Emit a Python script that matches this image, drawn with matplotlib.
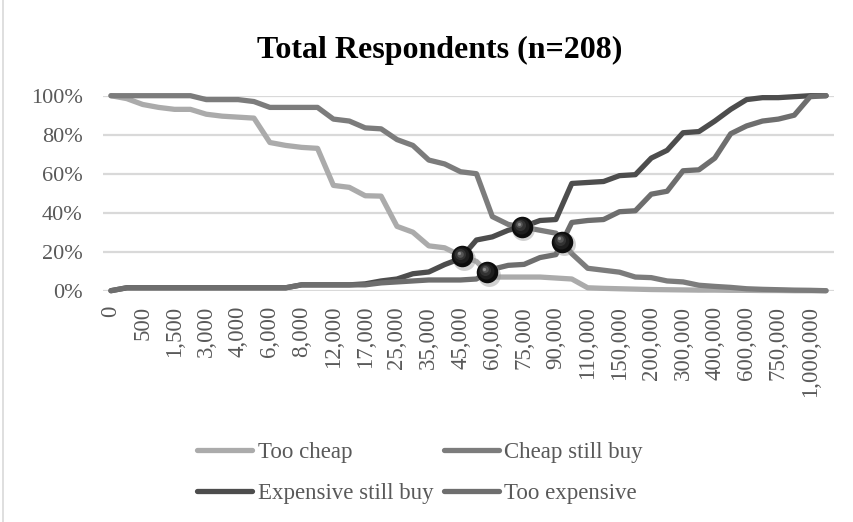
import matplotlib
matplotlib.use("Agg")
import matplotlib.pyplot as plt
import matplotlib.transforms as mtransforms
from matplotlib.lines import Line2D
import numpy as np

plt.rcParams['font.family'] = ['Liberation Serif', 'DejaVu Serif']

# Price points asked in the survey (every other one is labelled on the axis)
prices = ["0", "250", "500", "1,000", "1,500", "2,000", "3,000", "3,500",
          "4,000", "5,000", "6,000", "7,000", "8,000", "10,000", "12,000",
          "15,000", "17,000", "20,000", "25,000", "30,000", "35,000", "40,000",
          "45,000", "50,000", "60,000", "70,000", "75,000", "80,000", "90,000",
          "100,000", "110,000", "120,000", "150,000", "180,000", "200,000",
          "250,000", "300,000", "350,000", "400,000", "500,000", "600,000",
          "700,000", "750,000", "800,000", "1,000,000", "1,500,000"]

# Cumulative share of respondents (%)
too_cheap = [100, 98.5, 95.5, 94, 93, 93, 90.5, 89.5, 89, 88.5, 76, 74.5,
             73.5, 73, 54, 53, 48.7, 48.5, 33, 30, 23, 22, 18, 15, 7, 7, 7,
             7, 6.5, 6, 1.5, 1.2, 1, 0.8, 0.6, 0.5, 0.4, 0.3, 0.3, 0.2, 0.2,
             0.1, 0.1, 0, 0, 0]
cheap_still_buy = [100, 100, 100, 100, 100, 100, 98, 98, 98, 97, 94, 94, 94,
                   94, 88, 87, 83.5, 83, 77.5, 74.5, 67, 65, 61, 60, 38, 34,
                   32.5, 31, 29.5, 19, 11.5, 10.5, 9.5, 7, 6.7, 5, 4.5, 2.8,
                   2.2, 1.7, 1, 0.7, 0.5, 0.3, 0.2, 0]
expensive_still_buy = [0, 1.5, 1.5, 1.5, 1.5, 1.5, 1.5, 1.5, 1.5, 1.5, 1.5,
                       1.5, 3, 3, 3, 3, 3.5, 5, 6, 8.7, 9.6, 13.4, 16.5, 26,
                       27.6, 31, 33, 36, 36.5, 55, 55.5, 56, 59, 59.5, 68,
                       72, 81, 81.6, 87, 93, 98, 99, 99, 99.5, 100, 100]
too_expensive = [0, 1.5, 1.5, 1.5, 1.5, 1.5, 1.5, 1.5, 1.5, 1.5, 1.5, 1.5, 3,
                 3, 3, 3, 3, 4, 4.5, 5, 5.5, 5.5, 5.5, 6, 11, 13, 13.5, 17,
                 18.5, 35, 36, 36.5, 40.5, 41, 49.5, 51, 61.5, 62, 68, 80.5,
                 84.5, 87, 88, 90, 99.5, 100]

series = [
    ("Too cheap", too_cheap, "#ababab"),
    ("Cheap still buy", cheap_still_buy, "#7c7c7c"),
    ("Expensive still buy", expensive_still_buy, "#4d4d4d"),
    ("Too expensive", too_expensive, "#6e6e6e"),
]

W, H = 854, 522
fig = plt.figure(figsize=(W / 100, H / 100), dpi=100)
left, right, top, bottom = 103, 834, 95.7, 290.7
ax = fig.add_axes([left / W, 1 - bottom / H, (right - left) / W, (bottom - top) / H])

# thin chart-area border on the left edge
fig.add_artist(Line2D([3 / W, 3 / W], [0, 1], color='#d9d9d9', lw=1.2,
                      transform=fig.transFigure))

x = np.arange(len(prices))
lines = {}
for name, vals, col in series:
    ln, = ax.plot(x, np.array(vals) / 100, color=col, lw=3.8,
                  solid_capstyle='round', solid_joinstyle='round',
                  clip_on=False, zorder=3, label=name)
    lines[name] = ln


def crossing(a, b):
    a = np.array(a, float)
    b = np.array(b, float)
    d = a - b
    for i in range(len(d) - 1):
        if d[i] > 0 and d[i + 1] <= 0:
            t = d[i] / (d[i] - d[i + 1])
            return i + t, (a[i] + t * (a[i + 1] - a[i])) / 100
    return None


pairs = [(too_cheap, expensive_still_buy), (too_cheap, too_expensive),
         (cheap_still_buy, expensive_still_buy), (cheap_still_buy, too_expensive)]
pts = [crossing(a, b) for a, b in pairs]
px = [p[0] for p in pts]
py = [p[1] for p in pts]

# glossy black balls at the intersection points
shadow = mtransforms.offset_copy(ax.transData, fig=fig, x=1.5, y=-2.5, units='dots')
ax.plot(px, py, 'o', ms=16.5, color='#9a9a9a', alpha=0.45, mec='none',
        transform=shadow, zorder=4, clip_on=False)
ax.plot(px, py, 'o', ms=15.5, color='#0d0d0d', mec='none', zorder=5, clip_on=False)
for ms, col, off in [(11.5, '#1e1e1e', 1.0), (8, '#333333', 2.0),
                     (4.8, '#555555', 2.8), (2.3, '#8a8a8a', 3.3)]:
    tr = mtransforms.offset_copy(ax.transData, fig=fig, x=-off, y=off, units='dots')
    ax.plot(px, py, 'o', ms=ms, color=col, mec='none', transform=tr,
            zorder=6, clip_on=False)

ax.set_xlim(-0.5, len(prices) - 0.5)
ax.set_ylim(0, 1)
yt = np.arange(0, 1.01, 0.2)
ax.set_yticks(yt)
ax.set_yticklabels([f"{int(round(v * 100))}%" for v in yt],
                   fontsize=16, color='#595959')
ax.set_xticks(x[::2])
ax.set_xticklabels(prices[::2], rotation=90, fontsize=16.5, color='#595959',
                   va='top', ha='center')
ax.tick_params(axis='both', length=0)
ax.tick_params(axis='x', pad=11)
ax.tick_params(axis='y', pad=14.5)
ax.grid(axis='y', color='#d9d9d9', lw=1.6, zorder=0)
ax.set_axisbelow(True)
for s in ax.spines.values():
    s.set_visible(False)

fig.text(440 / W, 1 - 50 / H, "Total Respondents (n=208)", ha='center',
         va='center', fontsize=23, fontweight='bold', color='black')

order = ["Too cheap", "Expensive still buy", "Cheap still buy", "Too expensive"]
fig.legend([lines[n] for n in order], order, loc='center',
           bbox_to_anchor=(420 / W, 1 - 473 / H), ncol=2, frameon=False,
           fontsize=16.5, handlelength=2.4, handletextpad=0.25,
           columnspacing=0.45, labelspacing=0.85, labelcolor='#595959')

fig.savefig("out.png", dpi=100, facecolor='white')
